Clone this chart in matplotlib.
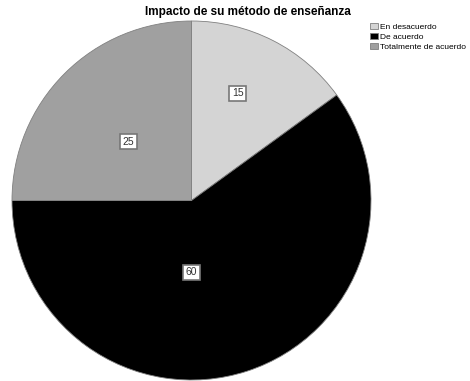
import matplotlib.pyplot as plt
import numpy as np

# Datos
categorias = ['En desacuerdo', 'De acuerdo', 'Totalmente de acuerdo']
valores = [15, 60, 25]
colores = ['#d4d4d4', '#000000', '#a0a0a0']
# posicion de etiquetas (angulo en grados, fraccion del radio)
etiqueta_ang = [66.7, -90.0, 136.9]
etiqueta_rad = [0.65, 0.40, 0.48]

plt.rcParams['font.family'] = ['Liberation Sans', 'DejaVu Sans']

fig = plt.figure(figsize=(4.7, 3.81), dpi=100)
ax = fig.add_axes([12 / 470, 1 / 381, 359 / 470, 359 / 381])

wedges, _ = ax.pie(valores, colors=colores, startangle=90, counterclock=False,
                   radius=1.0, wedgeprops=dict(edgecolor='#808080', linewidth=0.6))
ax.set_xlim(-1, 1)
ax.set_ylim(-1, 1)
ax.set_aspect('equal')

for v, a, r in zip(valores, etiqueta_ang, etiqueta_rad):
    x = r * np.cos(np.radians(a))
    y = r * np.sin(np.radians(a))
    ax.text(x, y, str(v), ha='center', va='center', fontsize=7.5, color='#333333',
            bbox=dict(boxstyle='square,pad=0.25', fc='white', ec='#777777', lw=1.2))

fig.text(248 / 470, 1 - 12 / 381, 'Impacto de su método de enseñanza',
         ha='center', va='center', fontsize=8.5, fontweight='bold')

fig.legend(wedges, categorias, loc='upper left', bbox_to_anchor=(370 / 470, 1 - 23 / 381),
           frameon=False, fontsize=6, handlelength=0.9, handleheight=0.8,
           handletextpad=0.3, labelspacing=0.2, borderaxespad=0, borderpad=0)

fig.savefig('out.png', dpi=100)
